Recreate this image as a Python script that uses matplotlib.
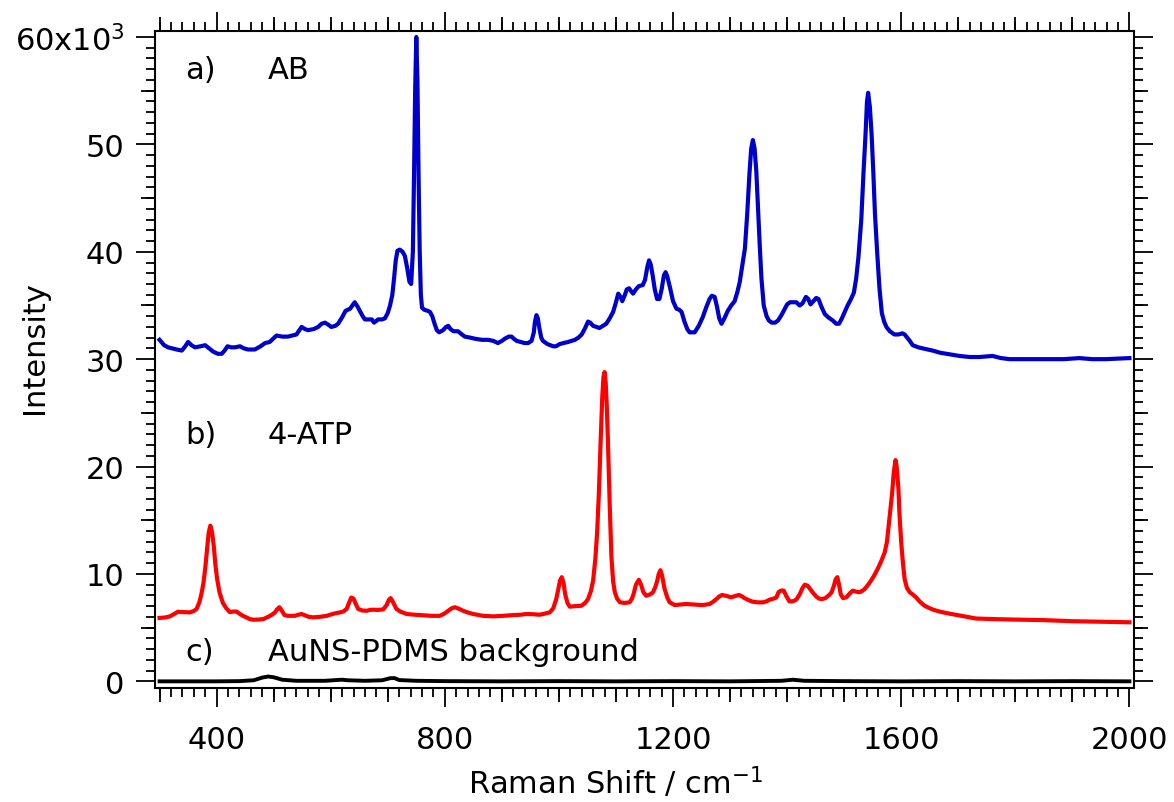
import matplotlib
matplotlib.use("Agg")
import matplotlib.pyplot as plt
from matplotlib.ticker import FixedLocator, MultipleLocator, FixedFormatter, NullFormatter
import numpy as np

# ---------------- data (Raman shift in cm^-1, intensity in 10^3 counts) -------------
ab_shift = [300, 308, 315, 330, 339, 345, 350, 356, 362, 372, 380, 387, 394, 402, 409, 414, 419, 426, 432, 441,
            448, 455, 467, 477, 485, 493, 499, 505, 515, 525, 540, 545, 549, 555, 560, 570, 578, 584, 590, 596,
            601, 608, 613, 620, 626, 634, 638, 642, 647, 651, 656, 660, 668, 672, 676, 683, 690, 695, 700, 704,
            708, 711, 714, 717, 721, 726, 730, 734, 738, 741, 744, 746, 748, 750, 752, 754, 756, 758, 760, 764,
            770, 774, 778, 782, 786, 790, 797, 802, 806, 810, 815, 823, 830, 835, 845, 853, 865, 876, 885, 893,
            900, 905, 912, 917, 921, 926, 933, 940, 946, 952, 956, 958, 960.6, 963, 966, 969, 972, 980, 990, 995,
            1001, 1008, 1016, 1022, 1028, 1034, 1040, 1046, 1051, 1055, 1060, 1066, 1071, 1077, 1083, 1089, 1095,
            1100, 1104, 1108, 1111, 1115, 1119, 1123, 1127, 1130, 1135, 1140, 1147, 1151, 1155, 1158, 1161, 1164,
            1168, 1172, 1176, 1180, 1184, 1187, 1190, 1195, 1200, 1206, 1211, 1215, 1220, 1225, 1229, 1238, 1245,
            1252, 1258, 1264, 1268, 1273, 1277, 1281, 1285, 1290, 1296, 1302, 1308, 1313, 1317, 1321, 1326, 1330,
            1334, 1337, 1340, 1343, 1346, 1349, 1352, 1355, 1359, 1364, 1368, 1373, 1379, 1384, 1390, 1396, 1400,
            1405, 1411, 1416, 1422, 1427, 1433, 1437, 1441, 1446, 1451, 1455, 1460, 1466, 1472, 1480, 1486, 1491,
            1496, 1501, 1506, 1512, 1517, 1521, 1525, 1530, 1534, 1537.5, 1540, 1542, 1545, 1548, 1551, 1554, 1558,
            1562, 1566, 1570, 1574, 1580, 1588, 1595, 1602, 1606, 1609, 1615, 1620, 1630, 1638, 1655, 1668, 1679,
            1690, 1702, 1720, 1737, 1760, 1775, 1790, 1820, 1854, 1885, 1912, 1935, 1959, 1980, 2000]
ab_intensity = [31.8, 31.3, 31.1, 30.9, 30.8, 31.2, 31.6, 31.3, 31.1, 31.2, 31.3, 31.0, 30.7, 30.5, 30.5, 30.8, 31.2,
                31.1, 31.1, 31.2, 31.0, 30.9, 30.9, 31.2, 31.5, 31.6, 31.9, 32.2, 32.1, 32.1, 32.3, 32.7, 33.0, 32.8,
                32.7, 32.8, 33.0, 33.3, 33.4, 33.2, 33.0, 33.1, 33.3, 33.9, 34.5, 34.7, 35.0, 35.3, 34.9, 34.5, 34.0,
                33.7, 33.7, 33.7, 33.4, 33.7, 33.7, 33.8, 34.3, 35.0, 36.0, 37.5, 39.2, 40.1, 40.2, 40.0, 39.6, 38.5,
                37.2, 37.0, 40.0, 47.0, 55.0, 60.0, 56.0, 47.0, 40.0, 36.0, 34.8, 34.6, 34.5, 34.4, 34.0, 33.3, 32.7,
                32.5, 32.7, 33.0, 33.1, 32.8, 32.6, 32.6, 32.3, 32.1, 32.0, 31.9, 31.8, 31.8, 31.7, 31.5, 31.7, 31.9,
                32.1, 32.1, 31.9, 31.7, 31.6, 31.5, 31.5, 31.7, 32.5, 33.5, 34.1, 33.8, 32.8, 32.0, 31.7, 31.4, 31.2,
                31.2, 31.4, 31.5, 31.6, 31.7, 31.8, 32.0, 32.3, 32.9, 33.5, 33.4, 33.1, 33.0, 32.9, 33.1, 33.3, 33.8,
                34.4, 35.3, 36.1, 35.8, 35.4, 35.9, 36.5, 36.6, 36.3, 36.1, 36.5, 36.8, 36.9, 37.4, 38.6, 39.2, 38.8,
                37.9, 36.5, 35.6, 35.6, 36.5, 37.8, 38.1, 37.7, 36.6, 35.4, 34.7, 34.6, 34.4, 33.5, 32.8, 32.5, 32.5,
                33.1, 33.9, 34.8, 35.6, 35.9, 35.8, 34.9, 33.8, 33.3, 33.8, 34.5, 35.0, 35.4, 36.3, 37.2, 38.6, 40.3,
                43.5, 47.3, 49.6, 50.4, 49.6, 47.5, 44.0, 40.6, 37.5, 35.0, 34.0, 33.6, 33.4, 33.4, 33.6, 34.1, 34.7,
                35.1, 35.3, 35.3, 35.3, 35.0, 35.2, 35.8, 35.6, 35.1, 35.4, 35.7, 35.6, 34.9, 34.2, 33.9, 33.6, 33.3,
                33.3, 33.8, 34.4, 35.0, 35.6, 36.2, 37.5, 39.5, 43.0, 47.5, 51.0, 54.0, 54.8, 53.5, 51.0, 47.5, 43.5,
                39.8, 36.5, 34.3, 33.5, 33.0, 32.6, 32.3, 32.3, 32.4, 32.3, 32.1, 31.7, 31.3, 31.1, 31.0, 30.8, 30.6,
                30.5, 30.4, 30.3, 30.2, 30.2, 30.3, 30.1, 30.0, 30.0, 30.0, 30.0, 30.1, 30.0, 30.0, 30.05, 30.1]

atp_shift = [300, 310, 318, 325, 332, 340, 353, 360, 365, 370, 374, 377, 380, 383, 386, 389, 392, 395, 398, 401,
             405, 411, 417, 423, 430, 435, 440, 446, 452, 458, 464, 473, 482, 490, 496, 502, 506, 510, 514, 519,
             525, 531, 537, 543, 549, 555, 562, 569, 580, 593, 605, 616, 622, 628, 632, 636, 640, 644, 648, 655,
             663, 669, 674, 683, 692, 698, 702, 705, 709, 715, 722, 733, 748, 762, 777, 791, 799, 806, 812, 818,
             825, 832, 841, 850, 867, 885, 902, 920, 932, 943, 955, 966, 975, 984, 990, 995, 999, 1002, 1005, 1008,
             1011, 1015, 1019, 1028, 1039.5, 1046, 1051, 1056, 1060, 1064, 1067, 1070, 1073, 1076, 1078, 1080, 1082,
             1084, 1086, 1089, 1092, 1095, 1098, 1102, 1107, 1115, 1124, 1128, 1131, 1135, 1140, 1144, 1148, 1153,
             1160, 1165, 1169, 1172, 1175, 1178, 1181, 1185, 1190, 1194, 1203, 1212, 1223, 1238, 1252, 1264, 1270,
             1276, 1281, 1286, 1294, 1302, 1309, 1316, 1321, 1326, 1333, 1340, 1350, 1358, 1364, 1369, 1376, 1381,
             1385, 1389, 1394, 1398, 1404, 1410, 1416, 1422, 1427, 1431, 1436, 1441, 1446, 1451, 1456, 1461, 1467,
             1473, 1478, 1482, 1485, 1488, 1491, 1494, 1498, 1504, 1510, 1515, 1521, 1527, 1531, 1536, 1542, 1547,
             1553, 1559, 1565, 1571, 1575, 1578, 1581, 1584, 1587, 1590, 1592, 1595, 1597, 1600, 1603, 1606, 1610,
             1615, 1620, 1626, 1633, 1641, 1648, 1656, 1667, 1679, 1690, 1699, 1715, 1731, 1760, 1800, 1850, 1900,
             1950, 2000]
atp_intensity = [5.9, 5.95, 6.05, 6.25, 6.48, 6.45, 6.42, 6.55, 6.75, 7.4, 8.3, 9.2, 10.5, 12.2, 13.8, 14.5, 13.9,
                 12.6, 10.8, 9.5, 8.3, 7.3, 6.8, 6.45, 6.5, 6.5, 6.3, 6.1, 5.96, 5.8, 5.74, 5.75, 5.8, 6.0, 6.17, 6.4,
                 6.7, 6.9, 6.6, 6.17, 6.1, 6.1, 6.1, 6.2, 6.27, 6.15, 6.0, 5.96, 6.0, 6.1, 6.3, 6.42, 6.5, 6.75, 7.3,
                 7.8, 7.7, 7.2, 6.75, 6.6, 6.57, 6.65, 6.67, 6.65, 6.7, 7.1, 7.6, 7.75, 7.4, 6.75, 6.5, 6.27, 6.2,
                 6.15, 6.1, 6.1, 6.3, 6.57, 6.8, 6.9, 6.75, 6.57, 6.4, 6.27, 6.1, 6.05, 6.1, 6.17, 6.2, 6.27, 6.25,
                 6.2, 6.3, 6.42, 6.8, 7.6, 8.6, 9.4, 9.7, 9.2, 8.1, 7.3, 6.95, 7.0, 7.04, 7.3, 7.66, 8.4, 9.4, 11.5,
                 13.9, 17.5, 22.2, 26.5, 28.3, 28.8, 27.8, 25.5, 22.2, 16.5, 11.6, 9.3, 8.3, 7.7, 7.36, 7.3, 7.36,
                 7.7, 8.15, 9.0, 9.45, 9.0, 8.3, 7.97, 8.1, 8.3, 8.8, 9.3, 10.0, 10.35, 9.8, 8.65, 7.8, 7.36, 7.1,
                 7.15, 7.2, 7.15, 7.1, 7.2, 7.4, 7.66, 7.9, 8.04, 7.95, 7.82, 7.95, 8.04, 7.9, 7.73, 7.55, 7.41, 7.35,
                 7.36, 7.45, 7.6, 7.7, 7.8, 8.3, 8.45, 8.45, 8.0, 7.45, 7.45, 7.6, 8.1, 8.7, 9.0, 8.9, 8.55, 8.2, 7.9,
                 7.7, 7.66, 7.75, 8.0, 8.3, 8.9, 9.5, 9.7, 9.0, 8.1, 7.75, 7.82, 8.2, 8.44, 8.35, 8.3, 8.4, 8.6, 9.0,
                 9.37, 9.9, 10.5, 11.2, 12.0, 13.0, 14.5, 16.0, 17.5, 19.5, 20.6, 20.0, 18.0, 15.5, 12.9, 11.0, 9.5,
                 8.7, 8.29, 8.1, 7.82, 7.4, 7.04, 6.85, 6.67, 6.5, 6.36, 6.25, 6.17, 6.0, 5.85, 5.8, 5.75, 5.7, 5.6,
                 5.55, 5.5]

bg_shift = [300, 400, 440, 465, 480, 490, 500, 515, 540, 590, 610, 620, 630, 660, 690, 705, 712, 720, 750, 800,
            900, 1000, 1100, 1200, 1300, 1390, 1410, 1430, 1500, 1600, 1700, 1800, 1900, 2000]
bg_intensity = [0.0, 0.0, 0.02, 0.1, 0.35, 0.45, 0.38, 0.15, 0.05, 0.05, 0.12, 0.15, 0.1, 0.05, 0.1, 0.3, 0.3,
                0.12, 0.05, 0.02, 0.0, 0.02, 0.0, 0.02, 0.0, 0.05, 0.15, 0.05, 0.02, 0.0, 0.02, 0.0, 0.02, 0.0]

x_major = [400, 800, 1200, 1600, 2000]
y_major = [0, 10, 20, 30, 40, 50, 60]
y_ticklabels = ["0", "10", "20", "30", "40", "50", "60x10$^{3}$"]
labels = [("a)", "AB", 57.0), ("b)", "4-ATP", 23.0), ("c)", "AuNS-PDMS background", 2.75)]

# ---------------- figure ----------------
plt.rcParams['font.family'] = ['DejaVu Sans']
plt.rcParams['mathtext.fontset'] = 'dejavusans'
FS = 22

fig = plt.figure(figsize=(11.74, 8.03), dpi=100)
pos = [155/1174, 1 - 689/803, (1134 - 155)/1174, (689 - 32.3)/803]
ax = fig.add_axes(pos)

ax.plot(ab_shift, ab_intensity, color='#0000CC', lw=3.0, solid_joinstyle='round', zorder=3)
ax.plot(atp_shift, atp_intensity, color='#FF0000', lw=3.0, solid_joinstyle='round', zorder=3)
ax.plot(bg_shift, bg_intensity, color='black', lw=2.8, solid_joinstyle='round', zorder=3)

xlim = (292, 2008)
ylim = (-0.62, 60.53)
ax.set_xlim(*xlim)
ax.set_ylim(*ylim)

for sp in ax.spines.values():
    sp.set_linewidth(1.5)

ax.xaxis.set_major_locator(FixedLocator(x_major))
ax.xaxis.set_minor_locator(MultipleLocator(20))
ax.yaxis.set_major_locator(FixedLocator(y_major))
ax.yaxis.set_minor_locator(MultipleLocator(1))
ax.yaxis.set_major_formatter(FixedFormatter(y_ticklabels))
ax.tick_params(which='both', direction='out', top=True, right=True, width=1.3)
ax.tick_params(which='major', length=14, labelsize=FS, pad=8)
ax.tick_params(which='minor', length=6.5)
ax.tick_params(axis='x', which='major', pad=13)

# medium ticks (every 100 cm^-1 and every 5x10^3) on an overlay axes
axm = fig.add_axes(pos, frameon=False)
axm.set_xlim(*xlim)
axm.set_ylim(*ylim)
axm.xaxis.set_major_locator(FixedLocator([v for v in range(300, 2001, 100) if v % 400]))
axm.yaxis.set_major_locator(FixedLocator([5, 15, 25, 35, 45, 55]))
axm.xaxis.set_major_formatter(NullFormatter())
axm.yaxis.set_major_formatter(NullFormatter())
axm.tick_params(which='major', direction='out', top=True, right=True, bottom=True, left=True,
                length=10, width=1.3)
axm.patch.set_visible(False)

for tag, name, yv in labels:
    ax.text(345, yv, tag, fontsize=FS, va='center', ha='left')
    ax.text(490, yv, name, fontsize=FS, va='center', ha='left')

ax.set_xlabel("Raman Shift / cm$^{-1}$", fontsize=FS)
ax.set_ylabel("Intensity", fontsize=FS)
ax.xaxis.set_label_coords(0.47, -0.142)
ax.xaxis.label.set_va('center')
ax.yaxis.set_label_coords(-0.123, 0.52)
ax.yaxis.label.set_va('center')

fig.savefig("out.png", dpi=100)
